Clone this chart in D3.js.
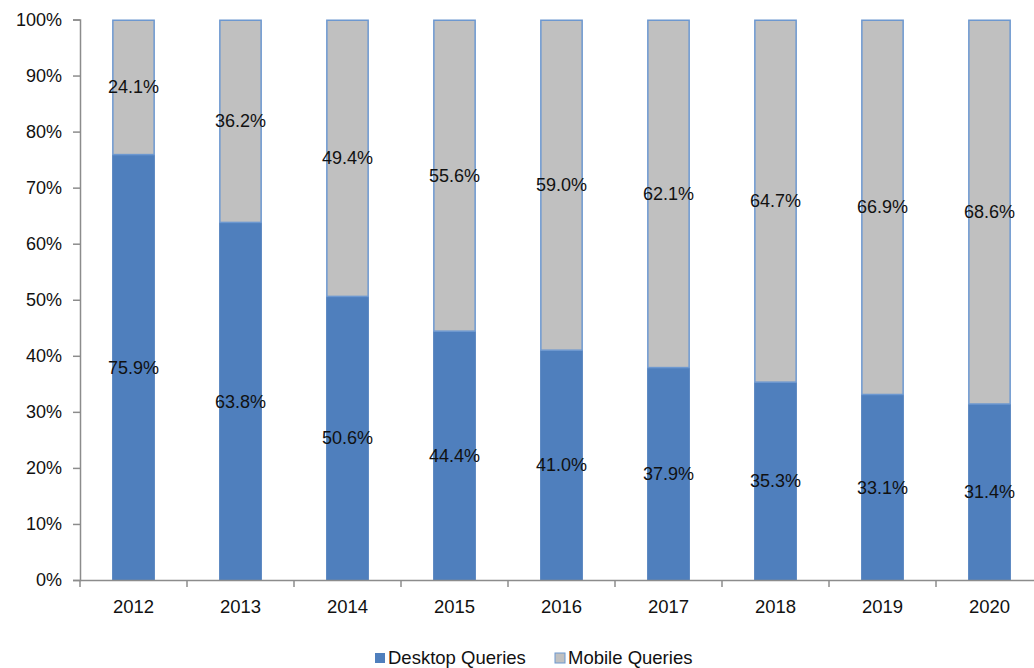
<!DOCTYPE html>
<html>
<head>
<meta charset="utf-8">
<script src="https://cdn.jsdelivr.net/npm/d3@7"></script>
<style>
  html, body { margin: 0; padding: 0; background: #fff; }
  svg { display: block; }
</style>
</head>
<body>
<svg id="chart" width="1034" height="668"></svg>
<script>
const years = ["2012", "2013", "2014", "2015", "2016", "2017", "2018", "2019", "2020"];
const desktop = [75.9, 63.8, 50.6, 44.4, 41.0, 37.9, 35.3, 33.1, 31.4];
const mobile = [24.1, 36.2, 49.4, 55.6, 59.0, 62.1, 64.7, 66.9, 68.6];
const seriesNames = ["Desktop Queries", "Mobile Queries"];
const yTicks = [0, 10, 20, 30, 40, 50, 60, 70, 80, 90, 100];

const colors = { desktop: "#4f7fbd", mobile: "#c0c0c0", mobileStroke: "#6d98d0", axis: "#8c8c8c", text: "#111111" };
const font = "Liberation Sans, Arial, sans-serif";

const svg = d3.select("#chart");
const plotLeft = 80, plotRight = 1043, plotTop = 19.5, plotBottom = 580;

const x = d3.scaleBand().domain(years).range([plotLeft, plotRight]).paddingInner(0.6).paddingOuter(0.3);
const y = d3.scaleLinear().domain([0, 100]).range([plotBottom, plotTop]);

const data = years.map((yr, i) => ({ year: yr, d: desktop[i], m: mobile[i] }));

// Desktop segments
svg.append("g").selectAll("rect").data(data).join("rect")
  .attr("x", d => x(d.year))
  .attr("width", x.bandwidth())
  .attr("y", d => y(d.d))
  .attr("height", d => y(0) - y(d.d))
  .attr("fill", colors.desktop);

// Mobile segments
svg.append("g").selectAll("rect").data(data).join("rect")
  .attr("x", d => x(d.year) + 0.75)
  .attr("width", x.bandwidth() - 1.5)
  .attr("y", d => y(d.d + d.m) + 0.75)
  .attr("height", d => y(d.d) - y(d.d + d.m) - 0.75)
  .attr("fill", colors.mobile)
  .attr("stroke", colors.mobileStroke)
  .attr("stroke-width", 1.5);

// Y axis
const yAxis = svg.append("g").attr("transform", `translate(${plotLeft},0)`)
  .call(d3.axisLeft(y).tickValues(yTicks).tickFormat(d => d + "%").tickSize(7).tickPadding(11));
yAxis.select(".domain").attr("stroke", colors.axis).attr("stroke-width", 1.5);
yAxis.selectAll(".tick line").attr("stroke", colors.axis).attr("stroke-width", 1.5);
yAxis.selectAll(".tick text").attr("fill", colors.text).style("font-family", font).style("font-size", "18px");

// X axis
const xAxis = svg.append("g").attr("transform", `translate(0,${plotBottom})`)
  .call(d3.axisBottom(x).tickSize(0).tickPadding(20));
xAxis.select(".domain").attr("stroke", colors.axis).attr("stroke-width", 1.5);
xAxis.selectAll(".tick text").attr("fill", colors.text).style("font-family", font).style("font-size", "18.5px");
// boundary ticks
const step = x.step();
const bounds = d3.range(years.length + 1).map(i => x(years[0]) - x.step() * x.paddingOuter() + i * step);
xAxis.append("g").selectAll("line").data(bounds).join("line")
  .attr("x1", d => d).attr("x2", d => d).attr("y1", 0).attr("y2", 7)
  .attr("stroke", colors.axis).attr("stroke-width", 1.5);

// Value labels
const labels = svg.append("g").style("font-family", font).style("font-size", "18px").attr("fill", colors.text).attr("text-anchor", "middle");
labels.selectAll("text.dl").data(data).join("text").attr("class", "dl")
  .attr("x", d => x(d.year) + x.bandwidth() / 2)
  .attr("y", d => y(d.d / 2))
  .attr("dy", "0.35em")
  .text(d => d.d.toFixed(1) + "%");
labels.selectAll("text.ml").data(data).join("text").attr("class", "ml")
  .attr("x", d => x(d.year) + x.bandwidth() / 2)
  .attr("y", d => y(d.d + d.m / 2))
  .attr("dy", "0.35em")
  .text(d => d.m.toFixed(1) + "%");

// Legend
const legend = svg.append("g").style("font-family", font).style("font-size", "18.5px");
const legendItems = [
  { name: seriesNames[0], x: 375, fill: colors.desktop, stroke: "none" },
  { name: seriesNames[1], x: 555, fill: colors.mobile, stroke: colors.mobileStroke }
];
const lg = legend.selectAll("g").data(legendItems).join("g").attr("transform", d => `translate(${d.x},658)`);
lg.append("rect").attr("x", 0).attr("y", -5).attr("width", 10).attr("height", 10)
  .attr("fill", d => d.fill).attr("stroke", d => d.stroke).attr("stroke-width", 1);
lg.append("text").attr("x", 13).attr("dy", "0.35em").attr("fill", colors.text).text(d => d.name);
</script>
</body>
</html>
